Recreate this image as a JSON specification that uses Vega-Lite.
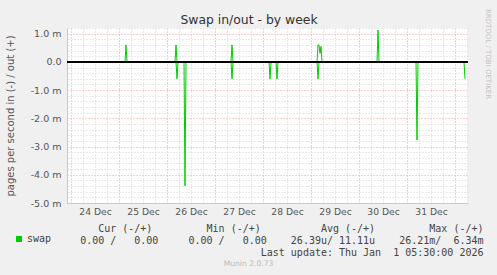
{
  "$schema": "https://vega.github.io/schema/vega-lite/v6.json",
  "autosize": {"type": "none"},
  "width": 401,
  "height": 175,
  "padding": {"left": 67, "top": 28, "right": 29, "bottom": 72},
  "background": "#f0f0f0",
  "config": {
    "font": "DejaVu Sans",
    "view": {"fill": "white", "stroke": null}
  },
  "title": {
    "text": "Munin 2.0.73",
    "orient": "bottom",
    "anchor": "middle",
    "frame": "group",
    "dx": -19,
    "offset": 3,
    "fontSize": 7.6,
    "fontWeight": "normal",
    "color": "#bbbbbb",
    "font": "DejaVu Sans"
  },
  "data": {
    "values": [
      {"t": "2025-12-23T22:00:00Z", "dir": "out", "v": 0},
      {"t": "2025-12-25T03:00:00Z", "dir": "out", "v": 0},
      {"t": "2025-12-25T03:30:00Z", "dir": "out", "v": 0.0006},
      {"t": "2025-12-25T04:00:00Z", "dir": "out", "v": 0},
      {"t": "2025-12-26T04:00:00Z", "dir": "out", "v": 0},
      {"t": "2025-12-26T04:30:00Z", "dir": "out", "v": 0.0006},
      {"t": "2025-12-26T05:00:00Z", "dir": "out", "v": 0},
      {"t": "2025-12-27T08:00:00Z", "dir": "out", "v": 0},
      {"t": "2025-12-27T08:30:00Z", "dir": "out", "v": 0.0006},
      {"t": "2025-12-27T09:00:00Z", "dir": "out", "v": 0},
      {"t": "2025-12-29T03:00:00Z", "dir": "out", "v": 0},
      {"t": "2025-12-29T03:30:00Z", "dir": "out", "v": 0.0006},
      {"t": "2025-12-29T04:00:00Z", "dir": "out", "v": 0.0006},
      {"t": "2025-12-29T04:30:00Z", "dir": "out", "v": 0.0003},
      {"t": "2025-12-29T05:00:00Z", "dir": "out", "v": 0.00055},
      {"t": "2025-12-29T05:30:00Z", "dir": "out", "v": 0},
      {"t": "2025-12-30T09:00:00Z", "dir": "out", "v": 0},
      {"t": "2025-12-30T09:30:00Z", "dir": "out", "v": 0.00113},
      {"t": "2025-12-30T10:00:00Z", "dir": "out", "v": 0},
      {"t": "2026-01-01T05:30:00Z", "dir": "out", "v": 0},
      {"t": "2025-12-23T22:00:00Z", "dir": "in", "v": 0},
      {"t": "2025-12-26T04:30:00Z", "dir": "in", "v": 0},
      {"t": "2025-12-26T05:00:00Z", "dir": "in", "v": -0.0006},
      {"t": "2025-12-26T05:30:00Z", "dir": "in", "v": 0},
      {"t": "2025-12-26T08:30:00Z", "dir": "in", "v": 0},
      {"t": "2025-12-26T09:00:00Z", "dir": "in", "v": -0.00439},
      {"t": "2025-12-26T09:30:00Z", "dir": "in", "v": 0},
      {"t": "2025-12-26T10:00:00Z", "dir": "in", "v": -0.00004},
      {"t": "2025-12-26T10:30:00Z", "dir": "in", "v": 0},
      {"t": "2025-12-27T08:00:00Z", "dir": "in", "v": 0},
      {"t": "2025-12-27T08:30:00Z", "dir": "in", "v": -0.0006},
      {"t": "2025-12-27T09:00:00Z", "dir": "in", "v": 0},
      {"t": "2025-12-28T03:00:00Z", "dir": "in", "v": 0},
      {"t": "2025-12-28T03:30:00Z", "dir": "in", "v": -0.0006},
      {"t": "2025-12-28T04:00:00Z", "dir": "in", "v": 0},
      {"t": "2025-12-28T06:30:00Z", "dir": "in", "v": 0},
      {"t": "2025-12-28T07:00:00Z", "dir": "in", "v": -0.0006},
      {"t": "2025-12-28T07:30:00Z", "dir": "in", "v": 0},
      {"t": "2025-12-29T03:00:00Z", "dir": "in", "v": 0},
      {"t": "2025-12-29T03:30:00Z", "dir": "in", "v": -0.0006},
      {"t": "2025-12-29T04:00:00Z", "dir": "in", "v": 0},
      {"t": "2025-12-31T04:30:00Z", "dir": "in", "v": 0},
      {"t": "2025-12-31T05:00:00Z", "dir": "in", "v": -0.00277},
      {"t": "2025-12-31T05:30:00Z", "dir": "in", "v": 0},
      {"t": "2026-01-01T04:30:00Z", "dir": "in", "v": 0},
      {"t": "2026-01-01T05:00:00Z", "dir": "in", "v": -0.0006}
    ]
  },
  "layer": [
    {
      "mark": {"type": "line", "strokeWidth": 1, "interpolate": "linear"},
      "encoding": {
        "x": {
          "field": "t",
          "type": "temporal",
          "scale": {
            "type": "utc",
            "domain": [
              {"year": 2025, "month": 12, "date": 23, "hours": 22, "utc": true},
              {"year": 2026, "month": 1, "date": 1, "hours": 6, "minutes": 30, "utc": true}
            ],
            "nice": false
          },
          "axis": {
            "orient": "bottom",
            "values": [1766556000000, 1766577600000, 1766599200000, 1766642400000, 1766664000000, 1766685600000, 1766728800000, 1766750400000, 1766772000000, 1766815200000, 1766836800000, 1766858400000, 1766901600000, 1766923200000, 1766944800000, 1766988000000, 1767009600000, 1767031200000, 1767074400000, 1767096000000, 1767117600000, 1767160800000, 1767182400000, 1767204000000, 1767247200000],
            "labelExpr": "utchours(datum.value) == 12 ? utcFormat(datum.value, '%d %b') : ''",
            "labelOverlap": false,
            "labelFlush": false,
            "labelFont": "DejaVu Sans",
            "labelFontSize": 9.2,
            "labelColor": "#555555",
            "labelPadding": 4,
            "ticks": false,
            "domainColor": "#c4c4f0",
            "grid": true,
            "gridColor": "#d2d2d2",
            "gridDash": [1, 2],
            "title": [
              "Cur\u00a0(-/+)\u00a0\u00a0\u00a0\u00a0\u00a0\u00a0\u00a0\u00a0\u00a0Min\u00a0(-/+)\u00a0\u00a0\u00a0\u00a0\u00a0\u00a0\u00a0\u00a0\u00a0\u00a0Avg\u00a0(-/+)\u00a0\u00a0\u00a0\u00a0\u00a0\u00a0\u00a0\u00a0\u00a0Max\u00a0(-/+)\u00a0",
              "0.00\u00a0/\u00a0\u00a0\u00a00.00\u00a0\u00a0\u00a0\u00a0\u00a00.00\u00a0/\u00a0\u00a0\u00a00.00\u00a0\u00a0\u00a0\u00a026.39u/\u00a011.11u\u00a0\u00a0\u00a0\u00a026.21m/\u00a0\u00a06.34m",
              "Last\u00a0update:\u00a0Thu\u00a0Jan\u00a0\u00a01\u00a005:30:00\u00a02026"
            ],
            "titleFont": "DejaVu Sans Mono",
            "titleFontSize": 10,
            "titleFontWeight": "normal",
            "titleColor": "#444444",
            "titleAlign": "right",
            "titleBaseline": "top",
            "titleLineHeight": 12,
            "titleX": 416,
            "titleY": 20
          }
        },
        "y": {
          "field": "v",
          "type": "quantitative",
          "scale": {"domain": [-0.005, 0.0012], "nice": false, "zero": false},
          "axis": {
            "orient": "left",
            "values": [-0.005, -0.004, -0.003, -0.002, -0.001, 0, 0.001],
            "labelExpr": "abs(datum.value) < 1e-9 ? '0.0' : (datum.value < 0 ? '-' : '') + format(abs(datum.value*1000), '.1f') + ' m'",
            "labelOverlap": false,
            "labelFlush": false,
            "labelFont": "DejaVu Sans",
            "labelFontSize": 9.5,
            "labelColor": "#555555",
            "labelPadding": 6,
            "ticks": false,
            "domainColor": "#c4c4f0",
            "grid": true,
            "gridColor": "#e8a0a0",
            "gridDash": [1, 2],
            "title": "pages per second in (-) / out (+)",
            "titleFont": "DejaVu Sans",
            "titleFontSize": 10,
            "titleFontWeight": "normal",
            "titleColor": "#555555",
            "titleAngle": -90,
            "titleAlign": "center",
            "titleBaseline": "middle",
            "titleX": -57,
            "titleY": 87.5
          }
        },
        "detail": {"field": "dir", "type": "nominal"},
        "color": {
          "datum": "swap",
          "type": "nominal",
          "scale": {"range": ["#00cc00"]},
          "legend": {
            "orient": "none",
            "legendX": -53,
            "legendY": 206,
            "title": null,
            "padding": 0,
            "symbolType": "square",
            "symbolSize": 36,
            "symbolFillColor": "#00cc00",
            "symbolStrokeColor": "#00cc00",
            "symbolStrokeWidth": 0,
            "labelFont": "DejaVu Sans Mono",
            "labelFontSize": 10,
            "labelColor": "#444444",
            "labelOffset": 3
          }
        }
      }
    },
    {
      "mark": {"type": "rule", "color": "#000000", "strokeWidth": 1},
      "encoding": {
        "x": {
          "datum": {"year": 2025, "month": 12, "date": 23, "hours": 22, "utc": true},
          "type": "temporal",
          "axis": {
            "orient": "top",
            "values": [1766534400000, 1766620800000, 1766707200000, 1766793600000, 1766880000000, 1766966400000, 1767052800000, 1767139200000, 1767225600000],
            "labels": false,
            "ticks": false,
            "domain": false,
            "grid": true,
            "gridColor": "#e8a0a0",
            "gridDash": [1, 2],
            "title": "Swap in/out - by week",
            "titleFont": "DejaVu Sans",
            "titleFontSize": 12.4,
            "titleFontWeight": "normal",
            "titleColor": "#333333",
            "titleAlign": "center",
            "titleBaseline": "middle",
            "titleX": 181.5,
            "titleY": -9
          }
        },
        "x2": {"datum": {"year": 2026, "month": 1, "date": 1, "hours": 6, "minutes": 30, "utc": true}},
        "y": {
          "datum": 0,
          "type": "quantitative",
          "axis": {
            "orient": "right",
            "values": [-0.0048, -0.0046, -0.0044, -0.0042, -0.0038, -0.0036, -0.0034, -0.0032, -0.0028, -0.0026, -0.0024, -0.0022, -0.0018, -0.0016, -0.0014, -0.0012, -0.0008, -0.0006, -0.0004, -0.0002, 0.0002, 0.0004, 0.0006, 0.0008, 0.0012],
            "labels": false,
            "ticks": false,
            "domain": false,
            "grid": true,
            "gridColor": "#d2d2d2",
            "gridDash": [1, 2],
            "title": "RRDTOOL / TOBI OETIKER",
            "titleFont": "DejaVu Sans",
            "titleFontSize": 7,
            "titleFontWeight": "normal",
            "titleColor": "#c4c4c4",
            "titleAngle": 90,
            "titleAlign": "center",
            "titleBaseline": "middle",
            "titleX": 19,
            "titleY": 25.5
          }
        }
      }
    }
  ],
  "resolve": {"axis": {"x": "independent", "y": "independent"}}
}
